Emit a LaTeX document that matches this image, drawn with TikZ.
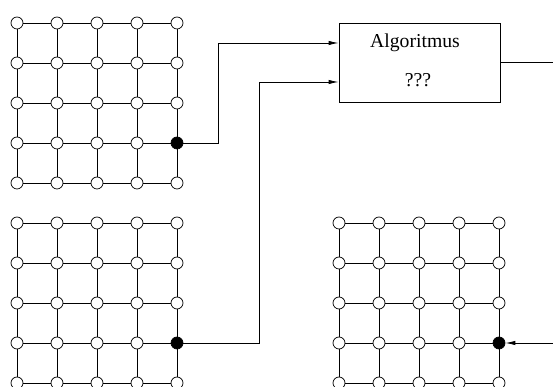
\documentclass[tikz,border=0pt]{standalone}
\usepackage{fontspec}
\setmainfont{Liberation Serif}
\usetikzlibrary{positioning,arrows.meta,calc}

\begin{document}
\begin{tikzpicture}[x=1cm,y=1cm,
    vrchol/.style={circle,draw,fill=white,inner sep=0pt,minimum size=0.3cm,line width=0.5pt},
    aktivni/.style={vrchol,fill=black},
    hrana/.style={line width=0.6pt},
    sipka/.style={-{Latex[length=2.5mm,width=1.1mm]},line width=0.6pt}]
  \useasboundingbox (0,0) rectangle (13.825,9.675);
  \foreach \g/\x/\y in {a/0.425/9.1,b/0.425/4.1,c/8.475/4.1} {
    \foreach \r in {1,...,5} \foreach \s in {1,...,5} {
      \ifnum\r\s=45 \def\styl{aktivni}\else\def\styl{vrchol}\fi
      \node[\styl] (\g-\r-\s) at (\x+\s-1,\y-\r+1) {};
    }
    \foreach \r in {1,...,5} \foreach \s [count=\t from 2] in {1,...,4} {
      \draw[hrana] (\g-\r-\s) -- (\g-\r-\t);
      \draw[hrana] (\g-\s-\r) -- (\g-\t-\r);
    }
  }
  \node[draw,line width=0.6pt,minimum width=4.025cm,minimum height=1.975cm] (algo) at (10.4875,8.1125) {};
  \node[font=\fontsize{14}{16}\selectfont] (nazev) at (10.375,8.6) {Algoritmus};
  \node[font=\fontsize{14}{16}\selectfont] (otazky) at (10.45,7.675) {???};
  \coordinate (vstup1) at ($(algo.west)+(0,0.4875)$);
  \coordinate (vstup2) at ($(algo.west)+(0,-0.4875)$);
  \coordinate (vystup) at (13.825,8.1125);
  \coordinate (vstup3) at (13.825,1.1);
  \draw[sipka] (a-4-5) -- ++(1.025,0) |- (vstup1);
  \draw[sipka] (b-4-5) -- ++(2.05,0) |- (vstup2);
  \draw[hrana] (algo.east) -- (vystup);
  \draw[sipka] (vstup3) -- (c-4-5);
\end{tikzpicture}
\end{document}
